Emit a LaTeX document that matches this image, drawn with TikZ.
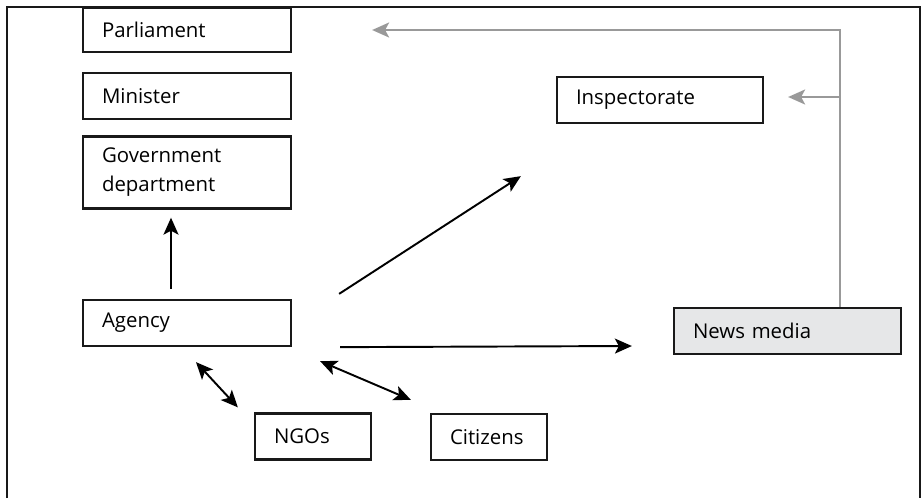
\documentclass[tikz,border=0pt]{standalone}
\usepackage{fontspec}
\setmainfont{Open Sans}
\usetikzlibrary{arrows.meta, positioning, calc}
\definecolor{mediagray}{RGB}{230, 231, 232}
\definecolor{linkgray}{RGB}{153, 153, 153}

\begin{document}
\begin{tikzpicture}[
        x=0.02cm, y=-0.02cm,
        box/.style={rectangle, draw=black!90, line width=1.3pt, align=left, font={\fontsize{11.6pt}{16.5pt}\selectfont}, inner xsep=0.38cm, inner ysep=0pt, text width=#1, minimum height=0.92cm},
        arrow/.style={-{Stealth[length=0.34cm, width=0.3cm, inset=0.08cm]}, line width=1.1pt},
        twoway/.style={{Stealth[length=0.34cm, width=0.3cm, inset=0.08cm]}-{Stealth[length=0.34cm, width=0.3cm, inset=0.08cm]}, line width=1.1pt},
        grayarrow/.style={-{Stealth[length=0.34cm, width=0.3cm, inset=0.08cm]}, line width=1.1pt, linkgray}
    ]
        \useasboundingbox (0,0) rectangle (923,498);
        \draw[line width=1.5pt, black!90] (7,498) -- (7,7) -- (920,7) -- (920,498);

        \node[box=3.4cm, minimum height=0.88cm] (parl) at (187,30) {Parliament};
        \node[box=3.4cm, below=0.38cm of parl] (minister) {Minister};
        \node[box=3.4cm, below=0.3cm of minister, minimum height=1.44cm] (govdept) {Government\\department};
        \node[box=3.4cm] (agency) at (187,323) {Agency};
        \node[box=1.56cm] (ngos) at (313,436.5) {NGOs};
        \node[box=1.56cm] (citizens) at (489,437) {Citizens};
        \node[box=3.36cm] (inspect) at (660,100) {Inspectorate};
        \node[box=3.78cm, fill=mediagray] (news) at (787.5,331) {News media};

        \draw[arrow] ($(agency.north)+(-16,-10)$) -- ($(govdept.south)+(-16,8)$);
        \draw[arrow] ($(agency.north east)+(47,-5)$) -- ($(inspect.south west)+(-35,52)$);
        \draw[arrow] ($(agency.south east)+(48,0)$) -- ($(news.west)+(-41,15)$);
        \draw[twoway] ($(agency.south)+(9,15)$) -- ($(ngos.north west)+(-16,-5)$);
        \draw[twoway] ($(agency.south east)+(28,14)$) -- ($(citizens.north west)+(-19,-13)$);

        % feedback from the media
        \coordinate (trunk) at ($(news.north)+(52.5,0)$);
        \coordinate (inspin) at ($(inspect.east)+(24,-3)$);
        \draw[grayarrow] (trunk) |- ($(parl.east)+(80,0)$);
        \draw[grayarrow] (trunk |- inspin) -- (inspin);
    \end{tikzpicture}
\end{document}
